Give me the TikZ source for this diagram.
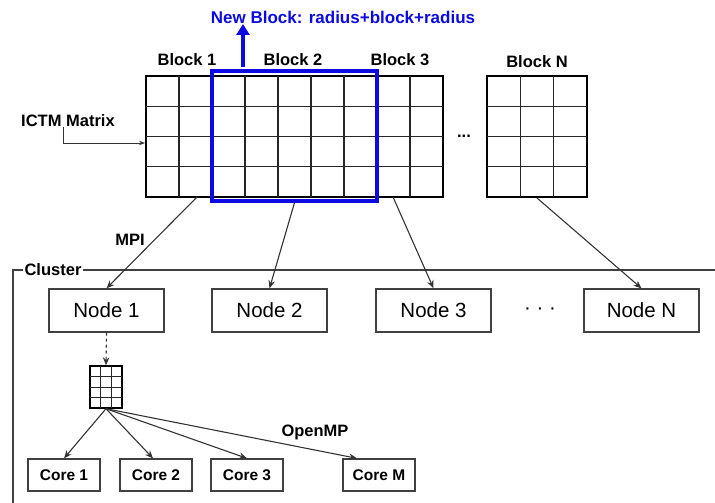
\documentclass[tikz,border=0pt]{standalone}
\usepackage{fontspec}
\setmainfont{Liberation Sans}
\usetikzlibrary{arrows.meta}
\definecolor{blkblue}{RGB}{10,10,225}

\begin{document}
\begin{tikzpicture}[x=1pt,y=-1pt]

			\tikzstyle{lbl} = [font=\fontsize{16.5}{18}\selectfont\bfseries,inner sep=0pt]
			\tikzstyle{nodebox} = [draw=black!75,line width=1.3pt,minimum width=115pt,minimum height=43pt,inner sep=0pt,font=\fontsize{20.5}{22}\selectfont]
			\tikzstyle{corebox} = [draw=black!75,line width=1.3pt,minimum width=72pt,minimum height=32pt,inner sep=0pt,font=\fontsize{15.5}{17}\selectfont\bfseries]
			\tikzstyle{conn} = [black!80,line width=1.1pt,-{Stealth[length=8pt,width=6.5pt]}]
			\tikzstyle{cell} = [black!85,line width=1.3pt]

			\useasboundingbox (0,0) rectangle (715,503);

			% ICTM matrix, blocks 1-3
			\node[draw,line width=2pt,minimum width=297pt,minimum height=121pt,inner sep=0pt] (ictm) at (294.5,136.5) {};
			\foreach \i in {1,...,8}
				\draw[cell] (146+33*\i,76) -- (146+33*\i,197);
			\foreach \j in {1,2,3}
				\draw[cell] (146,76+30.25*\j) -- (443,76+30.25*\j);

			% block N
			\node[draw,line width=2pt,minimum width=100pt,minimum height=121pt,inner sep=0pt] (blockn) at (537,136.5) {};
			\foreach \i in {1,2}
				\draw[cell] (487+33.33*\i,76) -- (487+33.33*\i,197);
			\foreach \j in {1,2,3}
				\draw[cell] (487,76+30.25*\j) -- (587,76+30.25*\j);

			\node[lbl] (blk1) at (187,60) {Block 1};
			\node[lbl] (blk2) at (293,60) {Block 2};
			\node[lbl] (blk3) at (400,60) {Block 3};
			\node[lbl] (blkn) at (537,62) {Block N};
			\node[lbl] (mdots) at (464,136) {...};

			% new block
			\node[draw=blkblue,line width=3.5pt,minimum width=165pt,minimum height=130pt,inner sep=0pt] (newblk) at (294.5,136) {};
			\coordinate (upstart) at (243,67);
			\coordinate (uptip) at (243,24);
			\draw[blkblue,line width=4.5pt,-{Triangle[length=11pt,width=13pt]}] (upstart) -- (uptip);
			\node[lbl,text=blkblue,font=\fontsize{17}{19}\selectfont\bfseries] (newlbl) at (343,17) {New Block: radius+block+radius};

			\node[lbl] (ictmlbl) at (68,121) {ICTM Matrix};
			\draw[black!80,line width=1pt,-{Stealth[length=6pt,width=4.5pt]}] ([xshift=-5pt]ictmlbl.south) |- ([yshift=-6.5pt]ictm.west);

			% cluster
			\draw[black!75,line width=1.3pt] (715,270) -- (13,270) -- (13,504);
			\node[lbl,fill=white,inner sep=1.5pt] (clus) at (53,270) {Cluster};

			\node[nodebox] (node1) at (106.5,310.5) {Node 1};
			\node[nodebox] (node2) at (269.5,310.5) {Node 2};
			\node[nodebox] (node3) at (433.5,310.5) {Node 3};
			\node[nodebox] (noden) at (641.5,310.5) {Node N};
			\node[font=\fontsize{20.5}{22}\selectfont] (ndots) at (540,311) {\textperiodcentered\ \textperiodcentered\ \textperiodcentered};

			\coordinate (b1out) at (197,197);
			\coordinate (b3out) at (393,197);
			\draw[conn] (b1out) -- (node1.north);
			\draw[conn] (newblk.south) -- (node2.north);
			\draw[conn] (b3out) -- (node3.north);
			\draw[conn] (blockn.south) -- (noden.north);
			\node[lbl] (mpi) at (130,240) {MPI};

			% sub matrix on node 1
			\node[draw,line width=1.4pt,minimum width=32pt,minimum height=42pt,inner sep=0pt] (subm) at (106,387) {};
			\foreach \i in {1,2}
				\draw[cell,line width=1pt] (90+10.67*\i,366) -- (90+10.67*\i,408);
			\foreach \j in {1,2,3}
				\draw[cell,line width=1pt] (90,366+10.5*\j) -- (122,366+10.5*\j);
			\draw[conn,dashed] (node1.south) -- (subm.north);

			% cores
			\node[corebox] (core1) at (64,475) {Core 1};
			\node[corebox] (core2) at (156,475) {Core 2};
			\node[corebox] (core3) at (247,475) {Core 3};
			\node[corebox] (corem) at (379,475) {Core M};
			\draw[conn] (subm.south) -- (core1.north);
			\draw[conn] (subm.south) -- ([xshift=-3pt]core2.north);
			\draw[conn] (subm.south) -- (core3.north);
			\draw[conn] (subm.south) -- ([xshift=-22pt]corem.north);
			\node[lbl] (omp) at (315,432) {OpenMP};

		\end{tikzpicture}
\end{document}
